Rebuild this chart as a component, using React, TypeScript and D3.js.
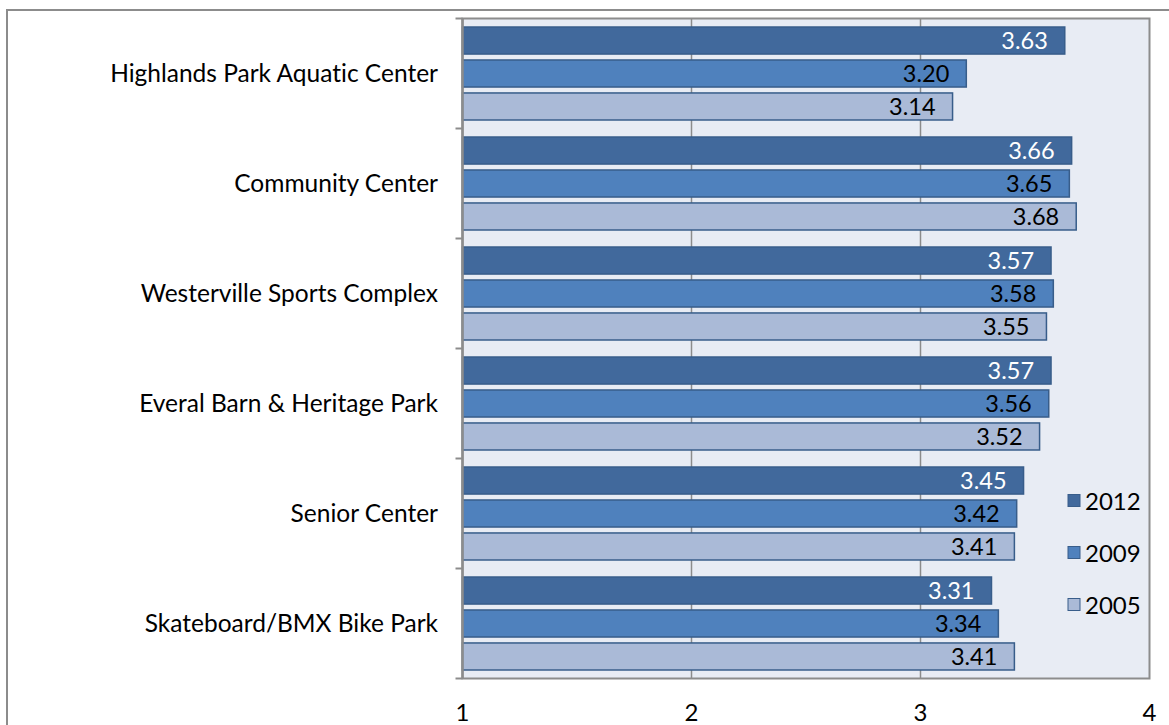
import React from "react";
import * as d3 from "d3";

const categories = [
  "Highlands Park Aquatic Center",
  "Community Center",
  "Westerville Sports Complex",
  "Everal Barn & Heritage Park",
  "Senior Center",
  "Skateboard/BMX Bike Park",
];
const seriesNames = ["2012", "2009", "2005"];
const values2012 = [3.63, 3.66, 3.57, 3.57, 3.45, 3.31];
const values2009 = [3.2, 3.65, 3.58, 3.56, 3.42, 3.34];
const values2005 = [3.14, 3.68, 3.55, 3.52, 3.41, 3.41];
const xTicks = [1, 2, 3, 4];

const seriesValues = [values2012, values2009, values2005];
const fills = ["#41699C", "#4F81BD", "#AABAD7"];
const labelColors = ["#FFFFFF", "#000000", "#000000"];

const FONT = "Lato, 'Open Sans', sans-serif";

export default function App() {
  const W = 1169;
  const H = 725;
  const x = d3.scaleLinear().domain([1, 4]).range([462.5, 1149.5]);
  const y = d3.scaleBand<string>().domain(categories).range([18.5, 678.5]).padding(0);
  const inner = d3
    .scaleBand<string>()
    .domain(seriesNames)
    .range([8.5, y.bandwidth() - 8.5])
    .paddingInner(0.18)
    .paddingOuter(0);

  const plotTop = 18.5;
  const plotBottom = 678.5;
  const plotLeft = x(1);
  const plotRight = x(4);

  return (
    <svg
      width={W}
      height={H}
      style={{ position: "absolute", left: 0, top: 0, background: "#fff", fontVariantLigatures: "none" }}
      fontFamily={FONT}
    >
      {/* outer chart border */}
      <rect x={7} y={10} width={W + 20} height={H + 20} fill="#fff" stroke="#8C8C8C" strokeWidth={2} />
      {/* plot area */}
      <rect
        x={plotLeft}
        y={plotTop}
        width={plotRight - plotLeft}
        height={plotBottom - plotTop}
        fill="#E8ECF4"
        stroke="#8C8C8C"
        strokeWidth={2}
      />
      {/* gridlines */}
      {xTicks.slice(1, -1).map((t) => (
        <line key={t} x1={x(t)} x2={x(t)} y1={plotTop} y2={plotBottom} stroke="#8C8C8C" strokeWidth={1.5} />
      ))}
      {/* bars */}
      {categories.map((c, ci) => (
        <g key={c} transform={`translate(0,${y(c)})`}>
          {seriesNames.map((s, si) => {
            const v = seriesValues[si][ci];
            const by = inner(s)!;
            const bh = inner.bandwidth();
            return (
              <g key={s}>
                <rect
                  x={x(1)}
                  y={by}
                  width={x(v) - x(1)}
                  height={bh}
                  fill={fills[si]}
                  stroke="#385D8A"
                  strokeWidth={1.5}
                />
                <text
                  x={x(v) - 17}
                  y={by + bh / 2}
                  dy="0.36em"
                  textAnchor="end"
                  fontSize={23.5}
                  fill={labelColors[si]}
                >
                  {v.toFixed(2)}
                </text>
              </g>
            );
          })}
        </g>
      ))}
      {/* y axis line and ticks */}
      <line x1={plotLeft} x2={plotLeft} y1={plotTop} y2={plotBottom} stroke="#8C8C8C" strokeWidth={2.5} />
      {d3.range(categories.length + 1).map((i) => {
        const ty = plotTop + i * y.step();
        return <line key={i} x1={plotLeft - 7} x2={plotLeft} y1={ty} y2={ty} stroke="#8C8C8C" strokeWidth={2} />;
      })}
      {/* category labels */}
      {categories.map((c) => (
        <text
          key={c}
          x={438}
          y={y(c)! + y.bandwidth() / 2}
          dy="0.36em"
          textAnchor="end"
          fontSize={24.5}
          fill="#000"
        >
          {c}
        </text>
      ))}
      {/* x tick labels */}
      {xTicks.map((t) => (
        <text key={t} x={x(t)} y={712} dy="0.36em" textAnchor="middle" fontSize={24} fill="#000">
          {t}
        </text>
      ))}
      {/* legend */}
      {seriesNames.map((s, i) => {
        const ly = 501 + i * 52;
        return (
          <g key={s}>
            <rect x={1068} y={ly - 6.5} width={12} height={12} fill={fills[i]} stroke="#385D8A" strokeWidth={1} />
            <text x={1085} y={ly} dy="0.36em" fontSize={24} fill="#000">
              {s}
            </text>
          </g>
        );
      })}
    </svg>
  );
}
